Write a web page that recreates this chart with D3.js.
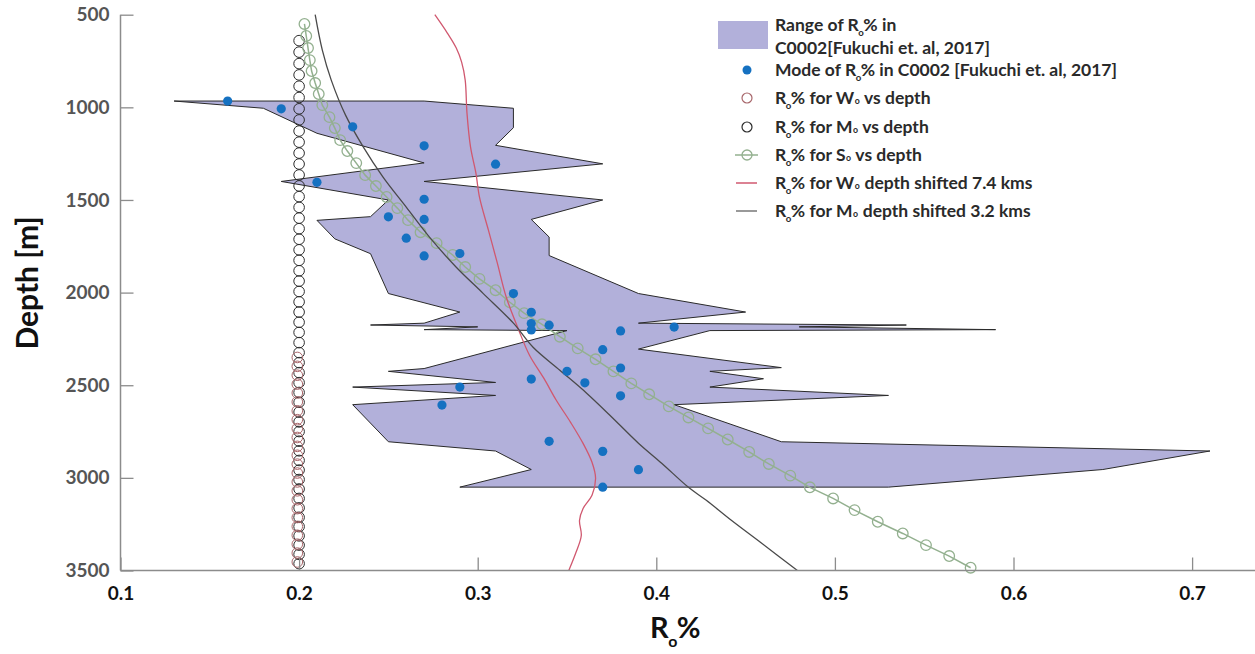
<!DOCTYPE html>
<html><head><meta charset="utf-8">
<script src="https://cdn.jsdelivr.net/npm/d3@7"></script>
<style>body{margin:0;background:#fff}svg{display:block}text{font-family:Lato,'Open Sans',sans-serif}</style>
</head><body><svg id="c" width="1255" height="654"></svg>
<script>
// ---------- data ----------
const xTickValues = [0.1, 0.2, 0.3, 0.4, 0.5, 0.6, 0.7];
const yTickValues = [500, 1000, 1500, 2000, 2500, 3000, 3500];

// Range of Ro% (Fukuchi 2017): left (minimum) boundary, top to bottom
const rangeLeftRo    = [0.13, 0.18, 0.21, 0.27, 0.19, 0.25, 0.24, 0.21, 0.22, 0.24, 0.25, 0.29, 0.27, 0.24, 0.30, 0.27, 0.35, 0.27, 0.25, 0.31, 0.23, 0.31, 0.23, 0.25, 0.31, 0.33, 0.29];
const rangeLeftDepth = [966, 1005, 1140, 1300, 1400, 1500, 1590, 1610, 1710, 1790, 2005, 2105, 2165, 2175, 2185, 2200, 2205, 2410, 2425, 2485, 2510, 2555, 2605, 2805, 2855, 2955, 3050];
// right (maximum) boundary, top to bottom
const rangeRightRo    = [0.27, 0.32, 0.32, 0.31, 0.37, 0.27, 0.37, 0.33, 0.34, 0.34, 0.39, 0.45, 0.39, 0.54, 0.48, 0.59, 0.43, 0.39, 0.47, 0.43, 0.46, 0.43, 0.53, 0.41, 0.47, 0.71, 0.65, 0.53];
const rangeRightDepth = [966, 1005, 1110, 1205, 1305, 1400, 1500, 1605, 1700, 1800, 2005, 2105, 2165, 2175, 2185, 2200, 2205, 2305, 2405, 2425, 2465, 2510, 2555, 2605, 2805, 2855, 2955, 3050];

// Mode of Ro%
const modeRo    = [0.16, 0.19, 0.23, 0.27, 0.31, 0.21, 0.27, 0.25, 0.27, 0.26, 0.29, 0.27, 0.32, 0.33, 0.33, 0.33, 0.34, 0.38, 0.41, 0.37, 0.38, 0.35, 0.36, 0.33, 0.38, 0.29, 0.28, 0.34, 0.37, 0.39, 0.37];
const modeDepth = [966, 1008, 1105, 1208, 1307, 1405, 1496, 1591, 1605, 1706, 1789, 1802, 2005, 2106, 2167, 2202, 2176, 2207, 2186, 2308, 2407, 2425, 2487, 2467, 2557, 2510, 2607, 2803, 2857, 2956, 3050];

// Ro% for M0 vs depth (circles)
const m0Depth = [640, 702, 764, 825, 886, 947, 1008, 1068, 1128, 1188, 1247, 1306, 1365, 1424, 1482, 1540, 1598, 1655, 1712, 1769, 1826, 1882, 1938, 1994, 2050, 2105, 2160, 2215, 2270, 2324, 2378, 2432, 2486, 2539, 2592, 2645, 2698, 2750, 2802, 2854, 2906, 2958, 3009, 3060, 3111, 3162, 3213, 3263, 3313, 3363, 3413, 3463];
const m0Ro    = [0.200, 0.200, 0.200, 0.200, 0.200, 0.200, 0.200, 0.200, 0.200, 0.200, 0.200, 0.200, 0.200, 0.200, 0.200, 0.200, 0.200, 0.200, 0.200, 0.200, 0.200, 0.200, 0.200, 0.200, 0.200, 0.200, 0.200, 0.200, 0.200, 0.200, 0.200, 0.200, 0.200, 0.200, 0.200, 0.200, 0.200, 0.200, 0.200, 0.200, 0.200, 0.200, 0.200, 0.200, 0.200, 0.200, 0.200, 0.200, 0.200, 0.200, 0.200, 0.200];

// Ro% for W0 vs depth (circles)
const w0Depth = [2350, 2398, 2446, 2494, 2542, 2590, 2638, 2686, 2734, 2782, 2830, 2878, 2926, 2974, 3022, 3070, 3118, 3166, 3214, 3262, 3310, 3358, 3406, 3454];
const w0Ro    = [0.199, 0.199, 0.199, 0.199, 0.199, 0.199, 0.199, 0.199, 0.199, 0.199, 0.199, 0.199, 0.199, 0.199, 0.199, 0.199, 0.199, 0.199, 0.199, 0.199, 0.199, 0.199, 0.199, 0.199];

// Ro% for S0 vs depth (line + circles)
const s0Ro    = [0.203, 0.204, 0.205, 0.206, 0.207, 0.209, 0.211, 0.213, 0.217, 0.220, 0.223, 0.227, 0.232, 0.237, 0.243, 0.249, 0.255, 0.261, 0.268, 0.277, 0.286, 0.293, 0.301, 0.310, 0.318, 0.326, 0.336, 0.346, 0.356, 0.366, 0.376, 0.386, 0.396, 0.407, 0.418, 0.429, 0.440, 0.452, 0.463, 0.475, 0.486, 0.499, 0.511, 0.524, 0.538, 0.551, 0.564, 0.576];
const s0Depth = [550, 615, 680, 745, 804, 869, 928, 988, 1053, 1112, 1177, 1236, 1301, 1366, 1425, 1484, 1544, 1609, 1674, 1733, 1797, 1862, 1926, 1987, 2052, 2111, 2171, 2238, 2301, 2360, 2425, 2490, 2549, 2614, 2674, 2733, 2793, 2860, 2925, 2988, 3051, 3111, 3174, 3237, 3300, 3363, 3422, 3485];

// Ro% for W0 depth shifted 7.4 kms
const w0ShiftRo    = [0.276, 0.283, 0.288, 0.291, 0.293, 0.294, 0.296, 0.299, 0.301, 0.306, 0.311, 0.316, 0.323, 0.329, 0.337, 0.344, 0.352, 0.359, 0.364, 0.366, 0.364, 0.359, 0.357, 0.358, 0.355, 0.351];
const w0ShiftDepth = [500, 599, 680, 756, 853, 1031, 1215, 1355, 1485, 1663, 1841, 2025, 2203, 2338, 2462, 2581, 2700, 2814, 2916, 3002, 3094, 3165, 3230, 3311, 3403, 3500];

// Ro% for M0 depth shifted 3.2 kms
const m0ShiftRo    = [0.209, 0.213, 0.218, 0.226, 0.236, 0.247, 0.260, 0.273, 0.288, 0.303, 0.320, 0.331, 0.346, 0.361, 0.374, 0.390, 0.403, 0.418, 0.428, 0.442, 0.459, 0.479];
const m0ShiftDepth = [500, 691, 853, 1042, 1215, 1377, 1539, 1701, 1863, 2004, 2165, 2295, 2419, 2543, 2662, 2813, 2921, 3051, 3121, 3229, 3353, 3500];

const legendLabels = [
  ["Range of R_o% in", "C0002[Fukuchi et. al, 2017]"],
  ["Mode of R_o% in C0002 [Fukuchi et. al, 2017]"],
  ["R_o% for W^o vs depth"],
  ["R_o% for M^o vs depth"],
  ["R_o% for S^o vs depth"],
  ["R_o% for W^o depth shifted 7.4 kms"],
  ["R_o% for M^o depth shifted 3.2 kms"]
];

// ---------- styles ----------
const C = {
  fill: "#b2b0da", edge: "#2a2a2a", dot: "#1571c1",
  m0: "#2b2b2b", w0: "#a8676b", s0: "#93b08f",
  w0s: "#d0586f", m0s: "#4a4a4a", axis: "#8c8c8c"
};

const svg = d3.select("#c");
svg.append("rect").attr("width", 1255).attr("height", 654).attr("fill", "#fff");

const x = d3.scaleLinear().domain([0.1, 0.7]).range([120.5, 1192.1]);
const y = d3.scaleLinear().domain([500, 3500]).range([14.7, 570.5]);

const zip = (a, b) => a.map((v, i) => [v, b[i]]);

// range polygon
const poly = zip(rangeLeftRo, rangeLeftDepth).concat(zip(rangeRightRo, rangeRightDepth).reverse());
svg.append("path")
  .attr("d", d3.line().x(d => x(d[0])).y(d => y(d[1]))(poly) + "Z")
  .attr("fill", C.fill).attr("stroke", C.edge).attr("stroke-width", 1).attr("stroke-linejoin", "miter");

// M0 circles
svg.append("g").selectAll("circle").data(zip(m0Ro, m0Depth)).join("circle")
  .attr("cx", d => x(d[0])).attr("cy", d => y(d[1])).attr("r", 5.3)
  .attr("fill", "none").attr("stroke", C.m0).attr("stroke-width", 1);
// W0 circles
svg.append("g").selectAll("circle").data(zip(w0Ro, w0Depth)).join("circle")
  .attr("cx", d => x(d[0])).attr("cy", d => y(d[1])).attr("r", 5.3)
  .attr("fill", "none").attr("stroke", C.w0).attr("stroke-width", 1);

// S0 line + markers
const s0 = zip(s0Ro, s0Depth);
svg.append("path").attr("d", d3.line().x(d => x(d[0])).y(d => y(d[1]))(s0))
  .attr("fill", "none").attr("stroke", C.s0).attr("stroke-width", 1.5);
svg.append("g").selectAll("circle").data(s0).join("circle")
  .attr("cx", d => x(d[0])).attr("cy", d => y(d[1])).attr("r", 5.3)
  .attr("fill", "none").attr("stroke", C.s0).attr("stroke-width", 1.3);

// shifted lines
svg.append("path").attr("d", d3.line().curve(d3.curveCatmullRom).x(d => x(d[0])).y(d => y(d[1]))(zip(w0ShiftRo, w0ShiftDepth)))
  .attr("fill", "none").attr("stroke", C.w0s).attr("stroke-width", 1.3);
svg.append("path").attr("d", d3.line().curve(d3.curveCatmullRom).x(d => x(d[0])).y(d => y(d[1]))(zip(m0ShiftRo, m0ShiftDepth)))
  .attr("fill", "none").attr("stroke", C.m0s).attr("stroke-width", 1.3);

// mode dots
svg.append("g").selectAll("circle").data(zip(modeRo, modeDepth)).join("circle")
  .attr("cx", d => x(d[0])).attr("cy", d => y(d[1])).attr("r", 4.6).attr("fill", C.dot);

// ---------- axes ----------
const gx = svg.append("g").attr("transform", "translate(0,570.5)")
  .call(d3.axisBottom(x).tickValues(xTickValues).tickFormat(d3.format(".1f")).tickSizeInner(-13).tickSizeOuter(0).tickPadding(16));
gx.select(".domain").remove();
gx.selectAll(".tick line").attr("stroke", C.axis).attr("stroke-width", 1.3);
gx.selectAll(".tick text").attr("font-size", 19).attr("font-weight", "bold").attr("fill", "#111").style("font-family", "Lato, sans-serif");
svg.append("line").attr("x1", 120.5).attr("x2", 1255).attr("y1", 570.5).attr("y2", 570.5).attr("stroke", C.axis).attr("stroke-width", 1.5);

const gy = svg.append("g").attr("transform", "translate(120.5,0)")
  .call(d3.axisLeft(y).tickValues(yTickValues).tickFormat(d3.format("d")).tickSizeInner(-13).tickSizeOuter(0).tickPadding(11));
gy.select(".domain").remove();
gy.selectAll(".tick line").attr("stroke", C.axis).attr("stroke-width", 1.3);
gy.selectAll(".tick text").attr("font-size", 19).attr("font-weight", "bold").attr("fill", "#555").style("font-family", "Lato, sans-serif");
svg.append("line").attr("x1", 120.5).attr("x2", 120.5).attr("y1", 14.7).attr("y2", 570.5).attr("stroke", C.axis).attr("stroke-width", 1.5);

// rich text helper: "_o" => subscript o after R ; "^o" => small inline o
function rich(sel, str, size) {
  const parts = str.split(/(_o|\^o)/);
  let pendDy = 0, pendDx = 0;
  parts.forEach(p => {
    if (p === "") return;
    if (p === "_o") {
      sel.append("tspan").text("o").attr("font-size", size * 0.55).attr("dy", size * 0.3).attr("dx", -0.5);
      pendDy = -size * 0.3; pendDx = -0.5;
    } else if (p === "^o") {
      sel.append("tspan").text("o").attr("font-size", size * 0.5).attr("dx", 0.5);
      pendDx = 0.5;
    } else {
      const t = sel.append("tspan").text(p);
      if (pendDy) t.attr("dy", pendDy);
      if (pendDx) t.attr("dx", pendDx);
      pendDy = 0; pendDx = 0;
    }
  });
}

// axis titles
svg.append("text").attr("transform", "translate(38,283) rotate(-90)").attr("text-anchor", "middle")
  .attr("font-size", 30).attr("font-weight", "bold").attr("fill", "#111").text("Depth [m]");
const xt = svg.append("text").attr("x", 650).attr("y", 638).attr("font-size", 29).attr("font-weight", "bold").attr("fill", "#111");
rich(xt, "R_o%", 29);

// ---------- legend ----------
const lg = svg.append("g");
const LX = 775, MX = 747;
const rowY = [27, 70, 98, 127, 155, 183, 211];
const fs = 17.5;
// patch
lg.append("rect").attr("x", 718).attr("y", 21).attr("width", 50).attr("height", 28).attr("fill", C.fill);
legendLabels.forEach((lines, i) => {
  lines.forEach((ln, j) => {
    const baseY = i === 0 ? (j === 0 ? 31 : 54) : rowY[i] + 6;
    const t = lg.append("text").attr("x", LX).attr("y", baseY).attr("font-size", fs).attr("font-weight", "bold").attr("fill", "#2a2a2a");
    rich(t, ln, fs);
  });
});
lg.append("circle").attr("cx", MX).attr("cy", rowY[1]).attr("r", 4.5).attr("fill", C.dot);
lg.append("circle").attr("cx", MX).attr("cy", rowY[2]).attr("r", 5).attr("fill", "none").attr("stroke", C.w0).attr("stroke-width", 1.2);
lg.append("circle").attr("cx", MX).attr("cy", rowY[3]).attr("r", 5).attr("fill", "none").attr("stroke", C.m0).attr("stroke-width", 1.2);
lg.append("line").attr("x1", 735).attr("x2", 758).attr("y1", rowY[4]).attr("y2", rowY[4]).attr("stroke", C.s0).attr("stroke-width", 1.5);
lg.append("circle").attr("cx", MX).attr("cy", rowY[4]).attr("r", 5).attr("fill", "none").attr("stroke", C.s0).attr("stroke-width", 1.3);
lg.append("line").attr("x1", 736).attr("x2", 757).attr("y1", rowY[5]).attr("y2", rowY[5]).attr("stroke", C.w0s).attr("stroke-width", 1.5);
lg.append("line").attr("x1", 736).attr("x2", 757).attr("y1", rowY[6]).attr("y2", rowY[6]).attr("stroke", "#777").attr("stroke-width", 1.5);
</script></body></html>
